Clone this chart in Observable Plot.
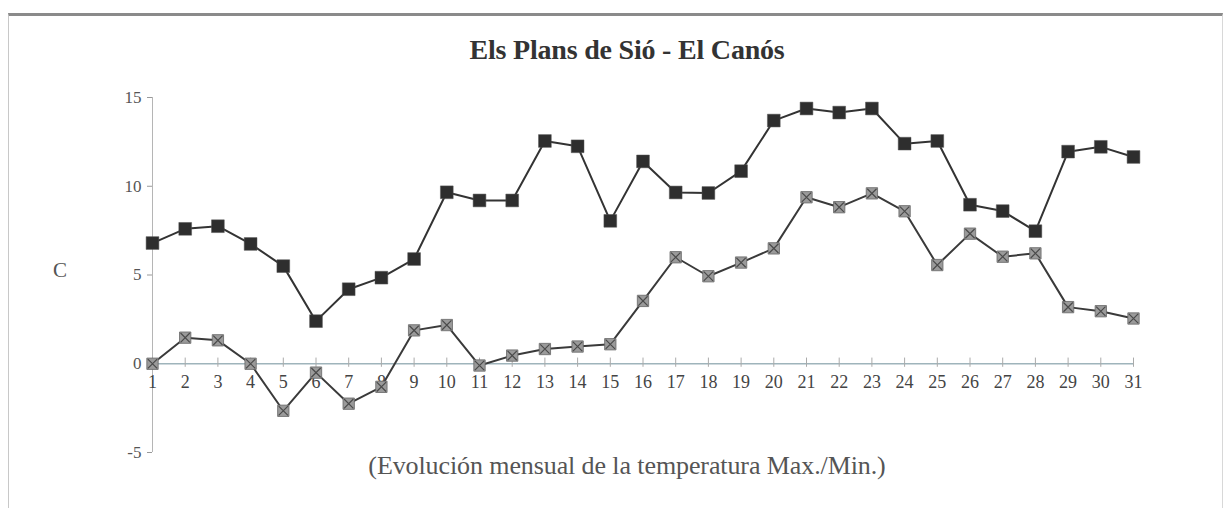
<!DOCTYPE html>
<html>
<head>
<meta charset="utf-8">
<script src="https://cdn.jsdelivr.net/npm/d3@7"></script>
<script src="https://cdn.jsdelivr.net/npm/@observablehq/plot@0.6"></script>
<style>
  html, body { margin: 0; padding: 0; background: #fff; }
  #wrap { position: relative; width: 1226px; height: 508px; overflow: hidden; background: #fff; }
  #frame { position: absolute; left: 8px; top: 13px; width: 1215px; height: 520px;
           border-top: 3px solid #8a8a8a; border-left: 1px solid #c8c8c8; border-right: 1px solid #d8d8d8; box-sizing: border-box; }
  .t { position: absolute; font-family: "Liberation Serif", "DejaVu Serif", serif; white-space: nowrap; transform: translate(-50%, -50%); }
  #title { left: 627px; top: 50px; font-size: 28px; font-weight: bold; color: #333; letter-spacing: -0.2px; }
  #ylab { left: 60px; top: 270px; font-size: 21px; color: #555; }
  #sub { left: 627px; top: 466px; font-size: 26px; color: #555; letter-spacing: -0.1px; }
  #chart { position: absolute; left: 0; top: 0; }
  #chart svg text { font-family: "Liberation Serif", "DejaVu Serif", serif; }
</style>
</head>
<body>
<div id="wrap">
  <div id="frame"></div>
  <div id="chart"></div>
  <div class="t" id="title">Els Plans de Sió - El Canós</div>
  <div class="t" id="ylab">C</div>
  <div class="t" id="sub">(Evolución mensual de la temperatura Max./Min.)</div>
</div>
<script>
const days = d3.range(1, 32);
const tmax = [6.8, 7.6, 7.75, 6.75, 5.5, 2.4, 4.2, 4.85, 5.9, 9.66, 9.2,
              9.2, 12.55, 12.25, 8.05, 11.4, 9.65, 9.62, 10.85, 13.7, 14.38, 14.15, 14.38,
              12.4, 12.55, 8.96, 8.6, 7.47, 11.95, 12.22, 11.65];
const tmin = [0.0, 1.47, 1.32, 0.0, -2.65, -0.5, -2.25, -1.3, 1.88, 2.18, -0.1,
              0.46, 0.83, 0.97, 1.1, 3.54, 6.0, 4.93, 5.7, 6.5, 9.38, 8.82, 9.6,
              8.59, 5.56, 7.33, 6.03, 6.22, 3.19, 2.96, 2.55];
const yTicks = [-5, 0, 5, 10, 15];

const maxData = days.map((d, i) => ({day: d, v: tmax[i]}));
const minData = days.map((d, i) => ({day: d, v: tmin[i]}));
const serif = "Liberation Serif, DejaVu Serif, serif";

const chart = Plot.plot({
  width: 1226,
  height: 508,
  marginTop: 97,
  marginBottom: 56,
  marginLeft: 152,
  marginRight: 93,
  style: {background: "transparent", fontFamily: serif},
  x: {domain: [1, 31], axis: null},
  y: {domain: [-5, 15], axis: null},
  marks: [
    Plot.ruleX([1], {y1: -5, y2: 15, stroke: "#b5b5b5", strokeWidth: 1}),
    Plot.axisY({ticks: yTicks, label: null, tickSize: 5, tickPadding: 6, tickFormat: d => String(d),
                fontSize: 17, color: "#555", stroke: "#999"}),
    Plot.ruleY([0], {x1: 1, x2: 31, stroke: "#9fb4bb", strokeWidth: 1.5}),
    Plot.ruleX(days, {x: d => d, y1: -0.2, y2: 0.32, stroke: "#aaa", strokeWidth: 1}),
    Plot.text(days, {x: d => d, y: 0, dy: 18, text: d => String(d), fontSize: 18, fill: "#444"}),
    Plot.line(maxData, {x: "day", y: "v", stroke: "#333", strokeWidth: 2}),
    Plot.line(minData, {x: "day", y: "v", stroke: "#3a3a3a", strokeWidth: 2}),
    Plot.dot(maxData, {x: "day", y: "v", symbol: "square", r: 7.2, fill: "#2e2e2e", stroke: "#555", strokeWidth: 0.5}),
    Plot.dot(minData, {x: "day", y: "v", symbol: "square", r: 6.4, fill: "#9a9a9a", stroke: "#666", strokeWidth: 0.8}),
    Plot.dot(minData, {x: "day", y: "v", symbol: "times", r: 4.3, stroke: "#4a4a4a", strokeWidth: 1.2})
  ]
});
document.getElementById("chart").appendChild(chart);
</script>
</body>
</html>
